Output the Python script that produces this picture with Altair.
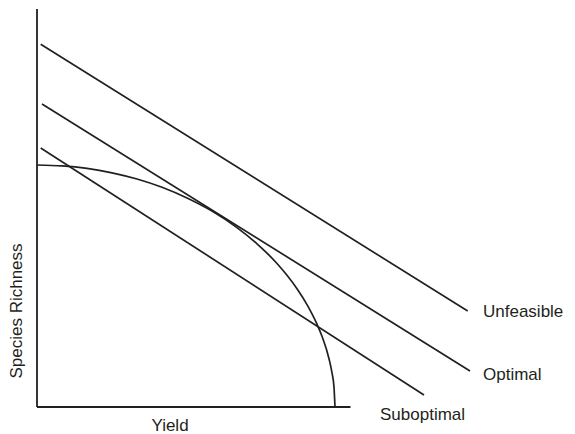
import altair as alt
import pandas as pd

# Budget lines (start and end points, in chart units: yield, species richness)
line_names = ["Unfeasible", "Unfeasible", "Optimal", "Optimal", "Suboptimal", "Suboptimal"]
line_x = [3.7, 430.7, 5.0, 433.0, 3.7, 387.0]
line_y = [362.7, 96.0, 303.0, 36.0, 259.0, 12.0]

# Production possibility frontier
curve_x = [0, 25, 50, 75, 100, 125, 150, 175, 200, 220, 230, 240, 250, 260, 270, 280, 285, 292, 295, 297, 298]
curve_y = [242, 241.1, 238.6, 234.2, 228, 219.7, 209, 195.9, 179.4, 163.2, 153.9, 143.5, 131.7, 118.3, 102.4, 82.8, 70.7, 48.3, 34.2, 19.8, 0]

# Axis extents
axis_x_end = 313.5
axis_y_end = 398

# Line labels
label_text = ["Unfeasible", "Optimal", "Suboptimal"]
label_x = [446, 446, 343]
label_y = [95, 32, -8]

INK = "#231f20"
FONT = "Liberation Sans"
FS = 17

xs = alt.Scale(domain=[-29, 530], nice=False, zero=False)
ys = alt.Scale(domain=[-22, 396], nice=False, zero=False)

lines_df = pd.DataFrame({"name": line_names, "x": line_x, "y": line_y})
curve_df = pd.DataFrame({"x": curve_x, "y": curve_y})
axes_df = pd.DataFrame({"x": [0, 0], "y": [0, 0], "x2": [axis_x_end, 0], "y2": [0, axis_y_end]})
labels_df = pd.DataFrame({"t": label_text, "x": label_x, "y": label_y})

axes = alt.Chart(axes_df).mark_rule(color=INK, strokeWidth=1.8).encode(
    x=alt.X("x:Q", scale=xs, axis=None),
    y=alt.Y("y:Q", scale=ys, axis=None),
    x2="x2:Q",
    y2="y2:Q",
)

budget = alt.Chart(lines_df).mark_line(color=INK, strokeWidth=1.7).encode(
    x=alt.X("x:Q", scale=xs, axis=None),
    y=alt.Y("y:Q", scale=ys, axis=None),
    detail="name:N",
)

curve = alt.Chart(curve_df).mark_line(color=INK, strokeWidth=1.7, interpolate="monotone").encode(
    x=alt.X("x:Q", scale=xs, axis=None),
    y=alt.Y("y:Q", scale=ys, axis=None),
    order="x:Q",
)

labels = alt.Chart(labels_df).mark_text(
    align="left", baseline="middle", font=FONT, fontSize=FS, color=INK
).encode(
    x=alt.X("x:Q", scale=xs, axis=None),
    y=alt.Y("y:Q", scale=ys, axis=None),
    text="t:N",
)

xtitle_df = pd.DataFrame({"t": ["Yield"], "x": [133], "y": [-19]})
xtitle = alt.Chart(xtitle_df).mark_text(
    align="center", baseline="middle", font=FONT, fontSize=FS, color=INK
).encode(
    x=alt.X("x:Q", scale=xs, axis=None),
    y=alt.Y("y:Q", scale=ys, axis=None),
    text="t:N",
)

ytitle_df = pd.DataFrame({"t": ["Species Richness"], "x": [-20], "y": [96]})
ytitle = alt.Chart(ytitle_df).mark_text(
    align="center", baseline="middle", font=FONT, fontSize=FS, color=INK, angle=270
).encode(
    x=alt.X("x:Q", scale=xs, axis=None),
    y=alt.Y("y:Q", scale=ys, axis=None),
    text="t:N",
)

chart = alt.layer(axes, budget, curve, labels, xtitle, ytitle).properties(
    width=559, height=418, padding=0, background="white"
).configure_view(stroke=None)

chart.save("out.html", embed_options={"renderer": "svg", "actions": False})
